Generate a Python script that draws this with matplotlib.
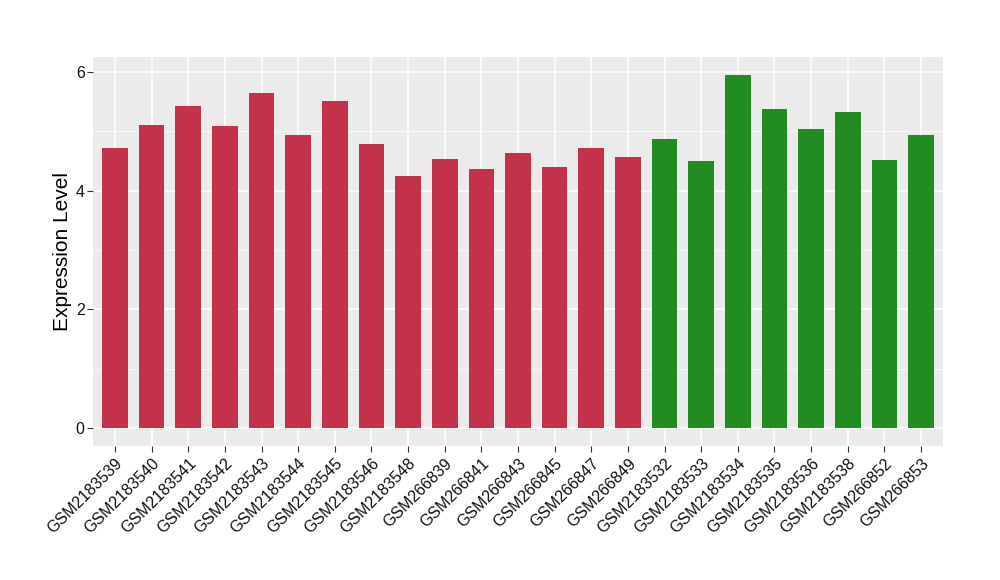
import matplotlib
matplotlib.use("Agg")
import matplotlib.pyplot as plt
import numpy as np

plt.rcParams['font.family'] = ['Liberation Sans', 'DejaVu Sans']

samples = ["GSM2183539", "GSM2183540", "GSM2183541", "GSM2183542", "GSM2183543",
           "GSM2183544", "GSM2183545", "GSM2183546", "GSM2183548", "GSM266839",
           "GSM266841", "GSM266843", "GSM266845", "GSM266847", "GSM266849",
           "GSM2183532", "GSM2183533", "GSM2183534", "GSM2183535", "GSM2183536",
           "GSM2183538", "GSM266852", "GSM266853"]
values = [4.72, 5.11, 5.43, 5.08, 5.65, 4.94, 5.51, 4.79, 4.25, 4.54,
          4.37, 4.64, 4.40, 4.71, 4.57,
          4.86, 4.50, 5.95, 5.38, 5.04, 5.33, 4.52, 4.94]
groups = ["a"] * 15 + ["b"] * 8
group_colors = {"a": "#C3314A", "b": "#228B22"}

fig = plt.figure(figsize=(10, 5.8), dpi=100)
ax = fig.add_axes([0.093, 0.231, 0.85, 0.6707])
ax.set_facecolor("#EBEBEB")

x = np.arange(len(samples))
ax.bar(x, values, width=0.7, color=[group_colors[g] for g in groups], zorder=3)

ymax = max(values)
ax.set_xlim(-0.6, len(samples) - 0.4)
ax.set_ylim(-0.05 * ymax, 1.05 * ymax)

ax.set_yticks([0, 2, 4, 6])
ax.set_yticks([1, 3, 5], minor=True)
ax.set_xticks(x)
ax.set_xticklabels(samples, rotation=45, ha="right", rotation_mode="anchor")

ax.grid(which="major", color="white", linewidth=1.1, zorder=0)
ax.grid(which="minor", axis="y", color="white", linewidth=0.5, zorder=0)
ax.set_axisbelow(True)

for s in ax.spines.values():
    s.set_visible(False)

ax.tick_params(axis="both", which="major", length=4, color="#333333",
               labelsize=11.5, labelcolor="#111111", width=0.8)
ax.tick_params(axis="y", which="minor", length=0)
ax.tick_params(axis="x", pad=3)
ax.tick_params(axis="y", pad=2)

ax.set_ylabel("Expression Level", fontsize=15, labelpad=3, color="black")

fig.savefig("out.png", dpi=100)
